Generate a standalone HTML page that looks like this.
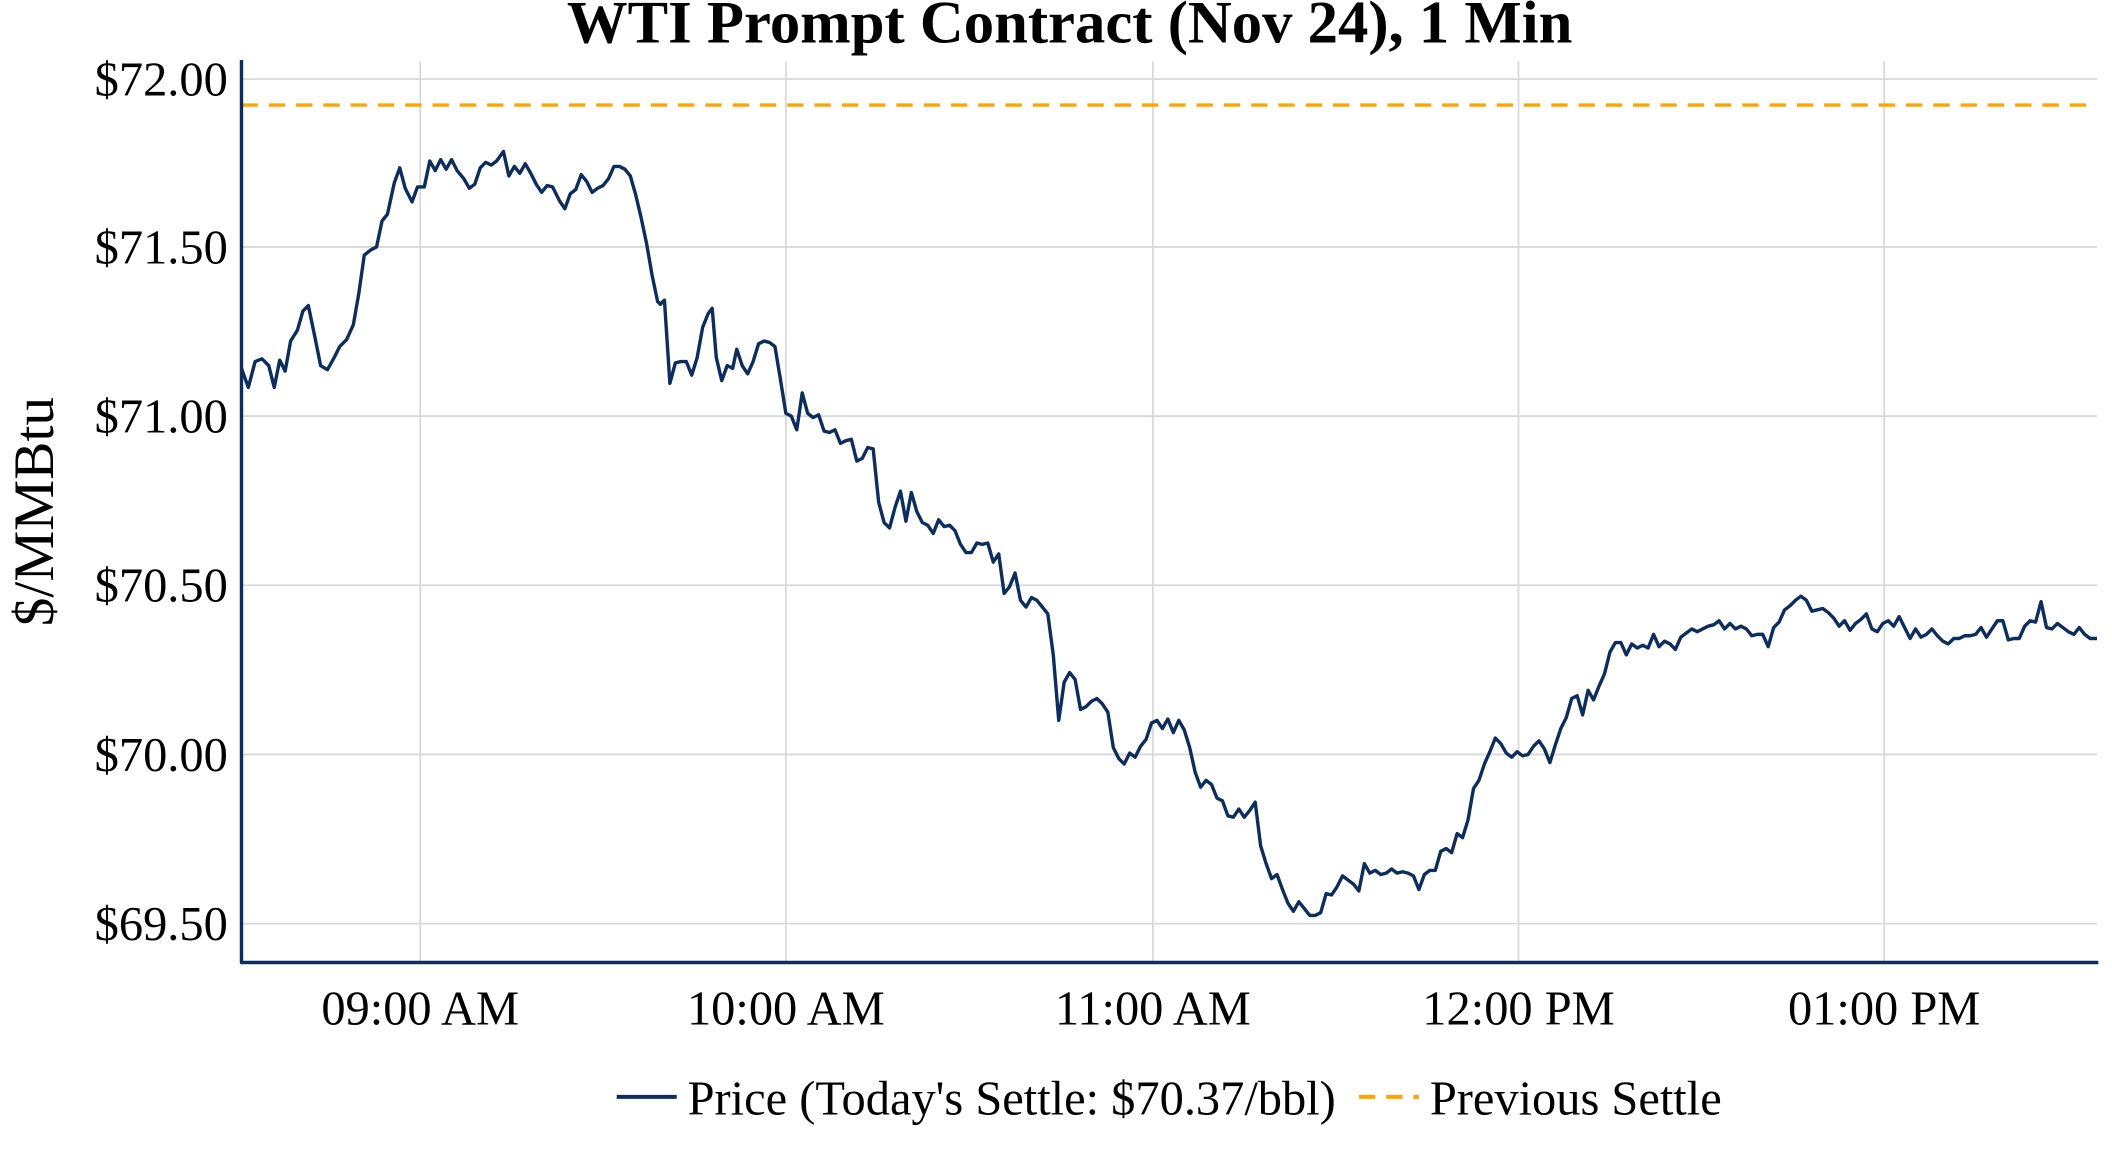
<!DOCTYPE html>
<html><head><meta charset="utf-8"><style>
html,body{margin:0;padding:0;background:#fff;}
svg{display:block;}
text{font-family:"Liberation Serif",serif;fill:#000;}
</style></head><body>
<svg width="2112" height="1152" viewBox="0 0 1548 844.4" preserveAspectRatio="none" xmlns="http://www.w3.org/2000/svg">
<rect width="1548" height="845" fill="#fff"/>
<g stroke="#d9d9d9" stroke-width="1.3">
<line x1="177" y1="58" x2="1537" y2="58"/>
<line x1="177" y1="181" x2="1537" y2="181"/>
<line x1="177" y1="305" x2="1537" y2="305"/>
<line x1="177" y1="429" x2="1537" y2="429"/>
<line x1="177" y1="553" x2="1537" y2="553"/>
<line x1="177" y1="677" x2="1537" y2="677"/>
<line x1="308" y1="45" x2="308" y2="705"/>
<line x1="576" y1="45" x2="576" y2="705"/>
<line x1="845" y1="45" x2="845" y2="705"/>
<line x1="1113" y1="45" x2="1113" y2="705"/>
<line x1="1381" y1="45" x2="1381" y2="705"/>
</g>
<line x1="177" y1="77" x2="1537" y2="77" stroke="#ffa500" stroke-width="2.5" stroke-dasharray="12,8"/>
<polyline fill="none" stroke="#0d2e5c" stroke-width="2.5" stroke-linejoin="round" points="177,270 182,284 187,265 192,263 197,268 201,284 205,264 209,272 213,250 218,242 222,228 226,224 231,248 235,268 240,271 245,262 249,254 254,249 259,238 263,215 267,187 272,183 276,181 280,162 284,157 289,134 293,123 297,138 302,148 306,137 311,137 315,118 319,125 323,117 327,124 331,117 335,125 340,131 344,138 348,135 352,123 356,119 360,121 364,118 369,111 373,129 377,122 381,127 385,120 389,127 393,135 397,141 401,136 405,137 410,147 414,153 418,142 422,139 426,128 430,133 434,141 438,138 442,136 446,131 450,122 454,122 458,124 462,129 466,143 470,160 474,179 478,202 482,221 484,223 487,220 491,281 495,266 499,265 503,265 507,275 511,262 515,240 519,230 522,226 525,262 529,279 533,268 537,270 540,256 544,268 548,274 552,265 556,252 560,250 564,251 568,254 572,278 576,303 580,305 584,315 588,288 592,303 596,306 600,304 604,316 608,317 612,315 616,325 620,323 624,322 628,338 632,336 636,328 640,329 644,368 648,383 652,387 656,372 660,360 664,382 668,361 672,375 676,383 680,385 684,391 688,381 692,386 696,385 700,389 704,399 708,405 712,405 716,398 720,399 724,398 728,412 732,406 736,435 740,430 744,420 748,440 752,445 756,438 760,440 764,445 768,450 772,480 776,528 780,500 784,493 788,498 792,520 796,518 800,514 804,512 808,516 812,522 816,548 820,556 824,560 828,552 832,555 836,547 840,542 844,530 848,528 852,534 856,527 860,537 864,528 868,535 872,548 876,566 880,577 884,572 888,575 892,585 896,587 900,598 904,599 908,593 912,599 916,594 920,588 924,620 928,633 932,644 936,641 940,652 944,662 948,668 952,661 956,666 960,671 964,671 968,669 972,655 976,656 980,650 984,642 988,645 992,648 996,653 1000,633 1004,640 1008,638 1012,641 1016,640 1020,637 1024,640 1028,639 1032,640 1036,642 1040,652 1044,641 1048,638 1052,638 1056,624 1060,622 1064,625 1068,611 1072,614 1076,601 1080,578 1084,572 1088,560 1092,551 1096,541 1100,545 1104,552 1108,555 1112,551 1116,554 1120,553 1124,547 1128,543 1132,549 1136,559 1140,546 1144,534 1148,526 1152,512 1156,510 1160,524 1164,506 1168,513 1172,503 1176,494 1180,478 1184,471 1188,471 1192,480 1196,472 1200,475 1204,473 1208,475 1212,465 1216,474 1220,470 1224,472 1228,476 1232,467 1236,464 1240,461 1244,463 1248,461 1252,459 1256,458 1260,455 1264,461 1268,457 1272,461 1276,459 1280,461 1284,466 1288,465 1292,465 1296,474 1300,460 1304,456 1308,447 1312,444 1316,440 1320,437 1324,440 1328,448 1332,447 1336,446 1340,449 1344,453 1348,459 1352,455 1356,462 1360,457 1364,454 1368,450 1372,461 1376,463 1380,457 1384,455 1388,459 1392,452 1396,460 1400,468 1404,461 1408,467 1412,465 1416,461 1420,466 1424,470 1428,472 1432,468 1436,468 1440,466 1444,466 1448,465 1452,460 1456,467 1460,461 1464,455 1468,455 1472,469 1476,468 1480,468 1484,459 1488,455 1492,456 1496,441 1500,460 1504,461 1508,457 1512,460 1516,463 1520,465 1524,460 1528,465 1532,468 1537,468"/>
<line x1="177" y1="44" x2="177" y2="706" stroke="#0d2e5c" stroke-width="2.5"/>
<line x1="176" y1="705.5" x2="1538" y2="705.5" stroke="#0d2e5c" stroke-width="2.5"/>
<g font-size="35.5" text-anchor="end">
<text x="167" y="70">$72.00</text>
<text x="167" y="193">$71.50</text>
<text x="167" y="317">$71.00</text>
<text x="167" y="441">$70.50</text>
<text x="167" y="565">$70.00</text>
<text x="167" y="689">$69.50</text>
</g>
<g font-size="35.5" text-anchor="middle">
<text x="308" y="751">09:00 AM</text>
<text x="576" y="751">10:00 AM</text>
<text x="845" y="751">11:00 AM</text>
<text x="1113" y="751">12:00 PM</text>
<text x="1381" y="751">01:00 PM</text>
</g>
<text x="784" y="31" font-size="44.5" font-weight="bold" text-anchor="middle">WTI Prompt Contract (Nov 24), 1 Min</text>
<text transform="translate(39,375) rotate(-90)" font-size="42" text-anchor="middle">$/MMBtu</text>
<line x1="452" y1="804" x2="496" y2="804" stroke="#0d2e5c" stroke-width="3"/>
<text x="504" y="817" font-size="35.5">Price (Today's Settle: $70.37/bbl)</text>
<line x1="996" y1="804" x2="1040" y2="804" stroke="#ffa500" stroke-width="3" stroke-dasharray="12,8"/>
<text x="1048" y="817" font-size="35.5">Previous Settle</text>
</svg>
</body></html>
